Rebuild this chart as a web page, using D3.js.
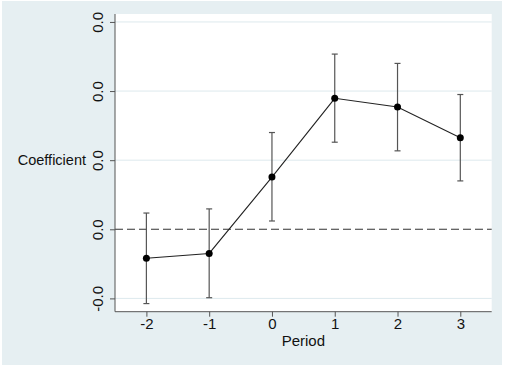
<!DOCTYPE html>
<html><head><meta charset="utf-8">
<script src="https://cdn.jsdelivr.net/npm/d3@7"></script>
<style>html,body{margin:0;padding:0;background:#fff;}svg{display:block;}</style>
</head><body>
<script>
const periods = [-2, -1, 0, 1, 2, 3];
const coef    = [-0.0084, -0.0070, 0.0151, 0.0379, 0.0354, 0.0265];
const ciLow   = [-0.0215, -0.0198, 0.0024, 0.0252, 0.0227, 0.0140];
const ciHigh  = [0.0047, 0.0059, 0.0280, 0.0507, 0.0480, 0.0390];
const yTicks  = [-0.02, 0, 0.02, 0.04, 0.06];
const yTickLabels = ["-0.0", "0.0", "0.0", "0.0", "0.0"];
const xTicks  = [-2, -1, 0, 1, 2, 3];

const W = 505, H = 368;
const svg = d3.select("body").append("svg").attr("width", W).attr("height", H);
const font = "'Liberation Sans', Arial, sans-serif";

svg.append("rect").attr("x", 2).attr("y", 1).attr("width", 500).attr("height", 364).attr("fill", "#e6eff2");

const L = 115, R = 491.7, T = 14, B = 311.7;
svg.append("rect").attr("x", L).attr("y", T).attr("width", R - L).attr("height", B - T).attr("fill", "#fff");

const x = d3.scaleLinear().domain([-2.5, 3.5]).range([L, R]);
const y = d3.scaleLinear().domain([-0.02385, 0.0623]).range([B, T]);

// gridlines
svg.append("g").selectAll("line").data(yTicks.filter(d => d !== 0)).join("line")
  .attr("x1", L).attr("x2", R).attr("y1", d => y(d)).attr("y2", d => y(d))
  .attr("stroke", "#dde9ed").attr("stroke-width", 1);

// zero dashed line
svg.append("line").attr("x1", L).attr("x2", R).attr("y1", y(0)).attr("y2", y(0))
  .attr("stroke", "#333").attr("stroke-width", 1.1).attr("stroke-dasharray", "8,4");

// axes
const yAxis = d3.axisLeft(y).tickValues(yTicks).tickSize(5).tickFormat((d, i) => yTickLabels[i]);
const gy = svg.append("g").attr("transform", `translate(${L},0)`).call(yAxis);
gy.select(".domain").attr("stroke", "#555").attr("d", `M0,${T}V${B}`);
gy.selectAll(".tick line").attr("stroke", "#555");
gy.selectAll(".tick text").attr("font-family", font).attr("font-size", 15).attr("fill", "#111")
  .attr("x", null).attr("dy", null).attr("text-anchor", "middle")
  .attr("transform", "translate(-12,0) rotate(-90)");

const xAxis = d3.axisBottom(x).tickValues(xTicks).tickSize(5).tickFormat(d => d < 0 ? "-" + Math.abs(d) : String(d));
const gx = svg.append("g").attr("transform", `translate(0,${B})`).call(xAxis);
gx.select(".domain").attr("stroke", "#555").attr("d", `M${L},0H${R}`);
gx.selectAll(".tick line").attr("stroke", "#555");
gx.selectAll(".tick text").attr("font-family", font).attr("font-size", 15).attr("fill", "#111")
  .attr("y", 17.5).attr("dy", null);

// error bars
const data = periods.map((p, i) => ({p, c: coef[i], lo: ciLow[i], hi: ciHigh[i]}));
const eb = svg.append("g").attr("stroke", "#555").attr("stroke-width", 1.2);
eb.selectAll(".v").data(data).join("line")
  .attr("x1", d => x(d.p)).attr("x2", d => x(d.p)).attr("y1", d => y(d.lo)).attr("y2", d => y(d.hi));
eb.selectAll(".ct").data(data).join("line")
  .attr("x1", d => x(d.p) - 3).attr("x2", d => x(d.p) + 3).attr("y1", d => y(d.hi)).attr("y2", d => y(d.hi));
eb.selectAll(".cb").data(data).join("line")
  .attr("x1", d => x(d.p) - 3).attr("x2", d => x(d.p) + 3).attr("y1", d => y(d.lo)).attr("y2", d => y(d.lo));

// connecting line
svg.append("path").datum(data)
  .attr("d", d3.line().x(d => x(d.p)).y(d => y(d.c)))
  .attr("fill", "none").attr("stroke", "#222").attr("stroke-width", 1.1);

svg.append("g").selectAll("circle").data(data).join("circle")
  .attr("cx", d => x(d.p)).attr("cy", d => y(d.c)).attr("r", 3.5).attr("fill", "#000");

// axis titles
svg.append("text").attr("x", 86).attr("y", 165).attr("text-anchor", "end")
  .attr("font-family", font).attr("font-size", 14.5).attr("fill", "#111").text("Coefficient");
svg.append("text").attr("x", x(0.5)).attr("y", 346).attr("text-anchor", "middle")
  .attr("font-family", font).attr("font-size", 15).attr("fill", "#111").text("Period");
</script>
</body></html>
